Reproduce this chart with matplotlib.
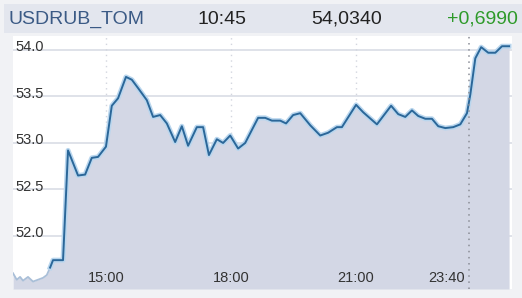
import matplotlib
matplotlib.use("Agg")
import matplotlib.pyplot as plt
import matplotlib.transforms as mtransforms
from matplotlib.patches import Rectangle

plt.rcParams['font.family'] = ['Liberation Sans', 'DejaVu Sans']

# header values
ticker = "USDRUB_TOM"
last_time = "10:45"
last_price = "54,0340"
change = "+0,6990"

# chart position in hours (session break at the dotted 23:40 line)
hours = [12.77, 12.86, 12.94, 13.01, 13.13, 13.25, 13.37, 13.49, 13.58, 13.66,
         13.73, 13.97, 14.09, 14.33, 14.50, 14.66, 14.81, 15.00, 15.14, 15.29,
         15.48, 15.62, 15.77, 15.98, 16.13, 16.30, 16.46, 16.66, 16.82, 16.97,
         17.18, 17.33, 17.47, 17.66, 17.81, 17.98, 18.17, 18.34, 18.65, 18.82,
         18.98, 19.18, 19.32, 19.49, 19.66, 19.90, 20.14, 20.33, 20.54, 20.66,
         21.00, 21.17, 21.50, 21.84, 22.01, 22.18, 22.34, 22.49, 22.66, 22.82,
         22.97, 23.14, 23.33, 23.50, 23.66, 23.74, 23.86, 24.00, 24.17, 24.34,
         24.50, 24.67]
prices = [51.60, 51.53, 51.56, 51.52, 51.56, 51.51, 51.53, 51.55, 51.58, 51.66,
          51.74, 51.74, 52.92, 52.65, 52.66, 52.84, 52.85, 52.96, 53.40, 53.48,
          53.71, 53.68, 53.59, 53.46, 53.28, 53.30, 53.21, 53.01, 53.18, 52.97,
          53.17, 53.17, 52.87, 53.04, 53.00, 53.08, 52.94, 53.00, 53.27, 53.27,
          53.24, 53.24, 53.21, 53.30, 53.32, 53.19, 53.08, 53.11, 53.17, 53.17,
          53.41, 53.33, 53.20, 53.40, 53.31, 53.28, 53.35, 53.29, 53.26, 53.26,
          53.18, 53.16, 53.17, 53.20, 53.32, 53.52, 53.91, 54.03, 53.97, 53.97,
          54.04, 54.04]
n_faded = 10  # early thin pale piece

y_ticks = [52.0, 52.5, 53.0, 53.5, 54.0]
x_ticks = [15.0, 18.0, 21.0]
x_labels = ["15:00", "18:00", "21:00"]
break_hour = 23.72
break_label = "23:40"

W, H = 522, 298
fig = plt.figure(figsize=(W / 100, H / 100), dpi=100, facecolor='#f1f2f5')

# header band
fig.patches.append(Rectangle((4 / W, 1 - 33 / H), 1 - 4 / W, 29 / H,
                             transform=fig.transFigure, facecolor='#e3e6ee',
                             edgecolor='none', zorder=0))
hy = 1 - 19 / H
fig.text(8 / W, hy, ticker, color='#3b5a85', fontsize=14, va='center')
fig.text(222 / W, hy, last_time, color='#222222', fontsize=14, va='center', ha='center')
fig.text(347 / W, hy, last_price, color='#222222', fontsize=14, va='center', ha='center')
fig.text(518 / W, hy, change, color='#2e9a2a', fontsize=14, va='center', ha='right')

ax = fig.add_axes([13 / W, 1 - 289 / H, (512 - 13) / W, (289 - 36) / H])
ax.set_facecolor('white')
ax.set_xlim(12.77, 24.74)
ax.set_ylim(51.43, 54.15)

for v in y_ticks:
    ax.axhline(v, color='#dcdfe7', lw=1.3, zorder=1)
for h in x_ticks:
    ax.axvline(h, color='#d3d6df', lw=1, ls=(0, (1, 3)), zorder=1)
ax.axvline(break_hour, color='#8a8d96', lw=1.1, ls=(0, (1, 3)), zorder=4)

ax.fill_between(hours, prices, 51.43, color='#d3d7e5', lw=0, zorder=2)
ax.plot(hours[:n_faded], prices[:n_faded], color='#a9bfd8', lw=1.3, zorder=3)
ax.plot(hours[n_faded - 1:], prices[n_faded - 1:], color='#b9d6ee', lw=3.6,
        solid_joinstyle='round', zorder=3)
ax.plot(hours[n_faded - 1:], prices[n_faded - 1:], color='#2b6799', lw=1.4,
        solid_joinstyle='round', zorder=3)

# tick labels drawn inside the plot
ytrans = mtransforms.blended_transform_factory(ax.transAxes, ax.transData)
for v in y_ticks:
    ax.text(2 / (512 - 13), v + 0.03, f"{v:.1f}", transform=ytrans, fontsize=10.5,
            color='#333333', va='center', ha='left', zorder=5)
xtrans = mtransforms.blended_transform_factory(ax.transData, ax.transAxes)
for h, lab in zip(x_ticks, x_labels):
    ax.text(h, 0.045, lab, transform=xtrans, fontsize=10.5, color='#333333',
            ha='center', va='center', zorder=5)
ax.text(break_hour - 0.1, 0.045, break_label, transform=xtrans, fontsize=10.5,
        color='#333333', ha='right', va='center', zorder=5)

ax.set_xticks([])
ax.set_yticks([])
for s in ax.spines.values():
    s.set_visible(False)

fig.savefig("out.png", dpi=100, facecolor=fig.get_facecolor())
